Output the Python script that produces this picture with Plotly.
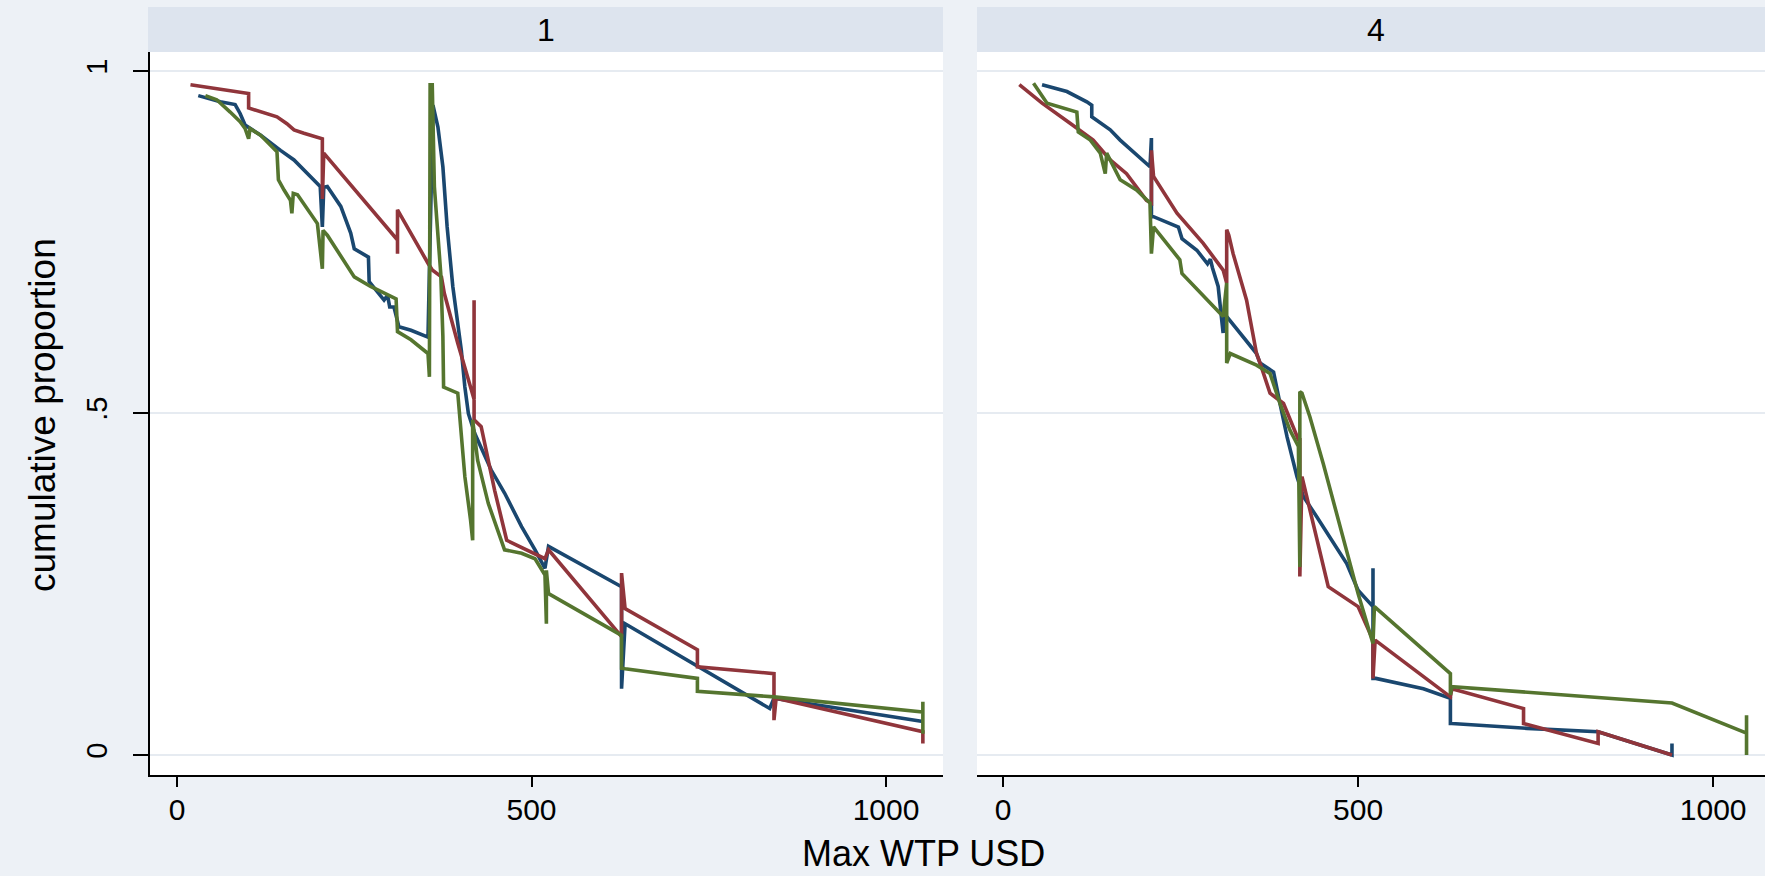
import plotly.graph_objects as go

# ---------------- data ----------------
facets = ["1", "4"]
series_colors = ["#1a476f", "#90353b", "#55752f"]

p1_blue_x = [30, 61, 82, 89, 96, 118, 146, 165, 202, 205, 207, 212, 231, 245, 250, 270, 271, 292, 297, 300, 306, 313, 330, 354, 361, 368, 375, 381, 389, 401, 406, 411, 420, 443, 462, 486, 505, 519, 524, 627, 627, 632, 836, 842, 1052]
p1_blue_y = [0.964, 0.955, 0.951, 0.938, 0.921, 0.906, 0.884, 0.870, 0.831, 0.772, 0.830, 0.831, 0.802, 0.763, 0.740, 0.728, 0.692, 0.665, 0.672, 0.655, 0.655, 0.626, 0.621, 0.611, 0.950, 0.918, 0.860, 0.772, 0.685, 0.592, 0.538, 0.499, 0.470, 0.417, 0.383, 0.334, 0.300, 0.273, 0.305, 0.246, 0.097, 0.192, 0.068, 0.083, 0.049]

p1_red_x = [19, 73, 101, 101, 141, 155, 165, 179, 205, 205, 207, 311, 311, 311, 354, 360, 373, 377, 396, 413, 419, 419, 419, 429, 448, 465, 519, 524, 627, 627, 632, 734, 734, 842, 842, 845, 1052, 1052]
p1_red_y = [0.980, 0.971, 0.967, 0.946, 0.933, 0.923, 0.914, 0.909, 0.901, 0.813, 0.880, 0.753, 0.733, 0.797, 0.719, 0.709, 0.699, 0.675, 0.602, 0.538, 0.520, 0.665, 0.490, 0.480, 0.387, 0.314, 0.287, 0.300, 0.173, 0.266, 0.214, 0.154, 0.129, 0.119, 0.051, 0.083, 0.034, 0.017]

p1_green_x = [40, 56, 75, 89, 96, 101, 103, 118, 141, 143, 151, 160, 162, 164, 170, 198, 205, 206, 212, 250, 273, 309, 311, 330, 354, 356, 357, 360, 363, 368, 372, 375, 376, 396, 400, 406, 414, 417, 417, 424, 439, 458, 462, 486, 505, 519, 521, 521, 524, 627, 627, 632, 734, 734, 842, 1052, 1052, 1052]
p1_green_y = [0.964, 0.958, 0.940, 0.926, 0.916, 0.901, 0.916, 0.906, 0.882, 0.841, 0.826, 0.811, 0.792, 0.821, 0.819, 0.777, 0.711, 0.767, 0.760, 0.699, 0.685, 0.667, 0.619, 0.607, 0.587, 0.553, 0.980, 0.980, 0.831, 0.758, 0.704, 0.612, 0.538, 0.529, 0.480, 0.407, 0.344, 0.314, 0.490, 0.431, 0.368, 0.314, 0.300, 0.295, 0.287, 0.263, 0.192, 0.270, 0.236, 0.175, 0.127, 0.126, 0.112, 0.093, 0.085, 0.063, 0.078, 0.031]

p2_blue_x = [55, 90, 118, 125, 125, 151, 165, 207, 209, 209, 212, 247, 252, 273, 288, 292, 295, 303, 308, 310, 312, 357, 362, 376, 381, 390, 400, 414, 423, 442, 484, 500, 521, 521, 521, 525, 592, 630, 630, 632, 738, 838, 942, 942]
p2_blue_y = [0.980, 0.970, 0.955, 0.950, 0.933, 0.914, 0.899, 0.860, 0.902, 0.787, 0.787, 0.772, 0.755, 0.738, 0.718, 0.725, 0.712, 0.685, 0.636, 0.617, 0.645, 0.587, 0.573, 0.563, 0.560, 0.514, 0.465, 0.407, 0.378, 0.348, 0.280, 0.241, 0.217, 0.273, 0.112, 0.112, 0.097, 0.083, 0.046, 0.046, 0.039, 0.034, 0.000, 0.017]

p2_red_x = [23, 55, 94, 127, 151, 174, 202, 209, 209, 212, 245, 282, 310, 315, 315, 318, 324, 343, 357, 362, 376, 395, 416, 418, 418, 421, 458, 500, 521, 521, 524, 630, 632, 733, 733, 838, 838, 942]
p2_red_y = [0.980, 0.953, 0.924, 0.899, 0.870, 0.850, 0.811, 0.807, 0.884, 0.846, 0.792, 0.748, 0.709, 0.690, 0.768, 0.760, 0.733, 0.665, 0.587, 0.573, 0.529, 0.514, 0.461, 0.461, 0.261, 0.407, 0.246, 0.217, 0.168, 0.112, 0.168, 0.085, 0.097, 0.068, 0.046, 0.017, 0.034, 0.000]

p2_green_x = [43, 62, 104, 106, 123, 137, 144, 146, 165, 188, 207, 209, 212, 249, 252, 310, 315, 315, 320, 357, 376, 390, 404, 416, 418, 418, 421, 432, 451, 461, 489, 500, 521, 523, 630, 630, 632, 942, 1047, 1047, 1047]
p2_green_y = [0.982, 0.953, 0.940, 0.911, 0.899, 0.880, 0.850, 0.880, 0.841, 0.826, 0.807, 0.733, 0.772, 0.724, 0.704, 0.641, 0.690, 0.573, 0.587, 0.570, 0.558, 0.514, 0.475, 0.451, 0.275, 0.531, 0.529, 0.495, 0.426, 0.387, 0.280, 0.236, 0.163, 0.217, 0.119, 0.088, 0.100, 0.076, 0.032, 0.058, 0.000]

x_tick_vals = [0, 500, 1000]
x_tick_text = ["0", "500", "1000"]
y_tick_vals = [0, 0.5, 1]
y_tick_text = ["0", ".5", "1"]
x_title = "Max WTP USD"
y_title = "cumulative proportion"

# ---------------- figure ----------------
W, H = 1765, 876
FONT = "Liberation Sans, Arial, sans-serif"
BG = "#edf1f6"
STRIP = "#dde4ee"
GRID = "#e6ebf1"

def px_x(px):
    return px / W

def px_y(py):
    return 1 - py / H

fig = go.Figure()

panels = [
    ("x", "y", [(p1_blue_x, p1_blue_y), (p1_red_x, p1_red_y), (p1_green_x, p1_green_y)]),
    ("x2", "y2", [(p2_blue_x, p2_blue_y), (p2_red_x, p2_red_y), (p2_green_x, p2_green_y)]),
]
for xa, ya, series in panels:
    for (sx, sy), col in zip(series, series_colors):
        fig.add_trace(go.Scatter(x=sx, y=sy, mode="lines", xaxis=xa, yaxis=ya,
                                 line=dict(color=col, width=3.6), showlegend=False,
                                 hoverinfo="skip"))

ydom = [px_y(775), px_y(52)]
yrange = [-0.0292, 1.0278]

common_x = dict(tickmode="array", tickvals=x_tick_vals, ticktext=x_tick_text,
                ticks="outside", ticklen=10, tickwidth=2, tickcolor="black",
                showline=True, linecolor="black", linewidth=2, showgrid=False,
                zeroline=False, tickfont=dict(family=FONT, size=30, color="black"),
                ticklabelstandoff=-3)

fig.update_layout(
    width=W, height=H, autosize=False,
    margin=dict(l=0, r=0, t=0, b=0),
    paper_bgcolor=BG, plot_bgcolor="white",
    font=dict(family=FONT, color="black"),
    xaxis=dict(domain=[px_x(150), px_x(943)], range=[-38.1, 1080.4], anchor="y", **common_x),
    xaxis2=dict(domain=[px_x(977), 1.0], range=[-36.6, 1073], anchor="y2", **common_x),
    yaxis=dict(domain=ydom, range=yrange, anchor="x", tickmode="array",
               tickvals=y_tick_vals, ticktext=y_tick_text, ticks="outside",
               ticklen=15, tickwidth=2, tickcolor="black", tickangle=-90,
               showline=True, linecolor="black", linewidth=2,
               showgrid=True, gridcolor=GRID, gridwidth=2, zeroline=False,
               tickfont=dict(family=FONT, size=29, color="black"),
               ticklabelstandoff=14),
    yaxis2=dict(domain=ydom, range=yrange, anchor="x2", matches="y",
                tickmode="array", tickvals=y_tick_vals, showticklabels=False,
                ticks="", showline=False, showgrid=True, gridcolor=GRID,
                gridwidth=2, zeroline=False),
)

# facet strips
strips = [(148, 943, facets[0], 546), (977, W, facets[1], 1375.5)]
for x0, x1, label, cx in strips:
    fig.add_shape(type="rect", xref="paper", yref="paper",
                  x0=px_x(x0), x1=px_x(x1), y0=px_y(52), y1=px_y(7),
                  fillcolor=STRIP, line=dict(width=0), layer="below")
    fig.add_annotation(text=label, xref="paper", yref="paper",
                       x=px_x(cx), y=px_y(30), xanchor="center", yanchor="middle",
                       showarrow=False, font=dict(family=FONT, size=32, color="black"))

# axis titles
fig.add_annotation(text=x_title, xref="paper", yref="paper", x=px_x(924), y=0.0,
                   xanchor="center", yanchor="bottom", showarrow=False,
                   font=dict(family=FONT, size=36, color="black"))
fig.add_annotation(text=y_title, xref="paper", yref="paper", x=px_x(43), y=px_y(415),
                   xanchor="center", yanchor="middle", textangle=-90, showarrow=False,
                   font=dict(family=FONT, size=37, color="black"))

fig.write_html("out.html")
